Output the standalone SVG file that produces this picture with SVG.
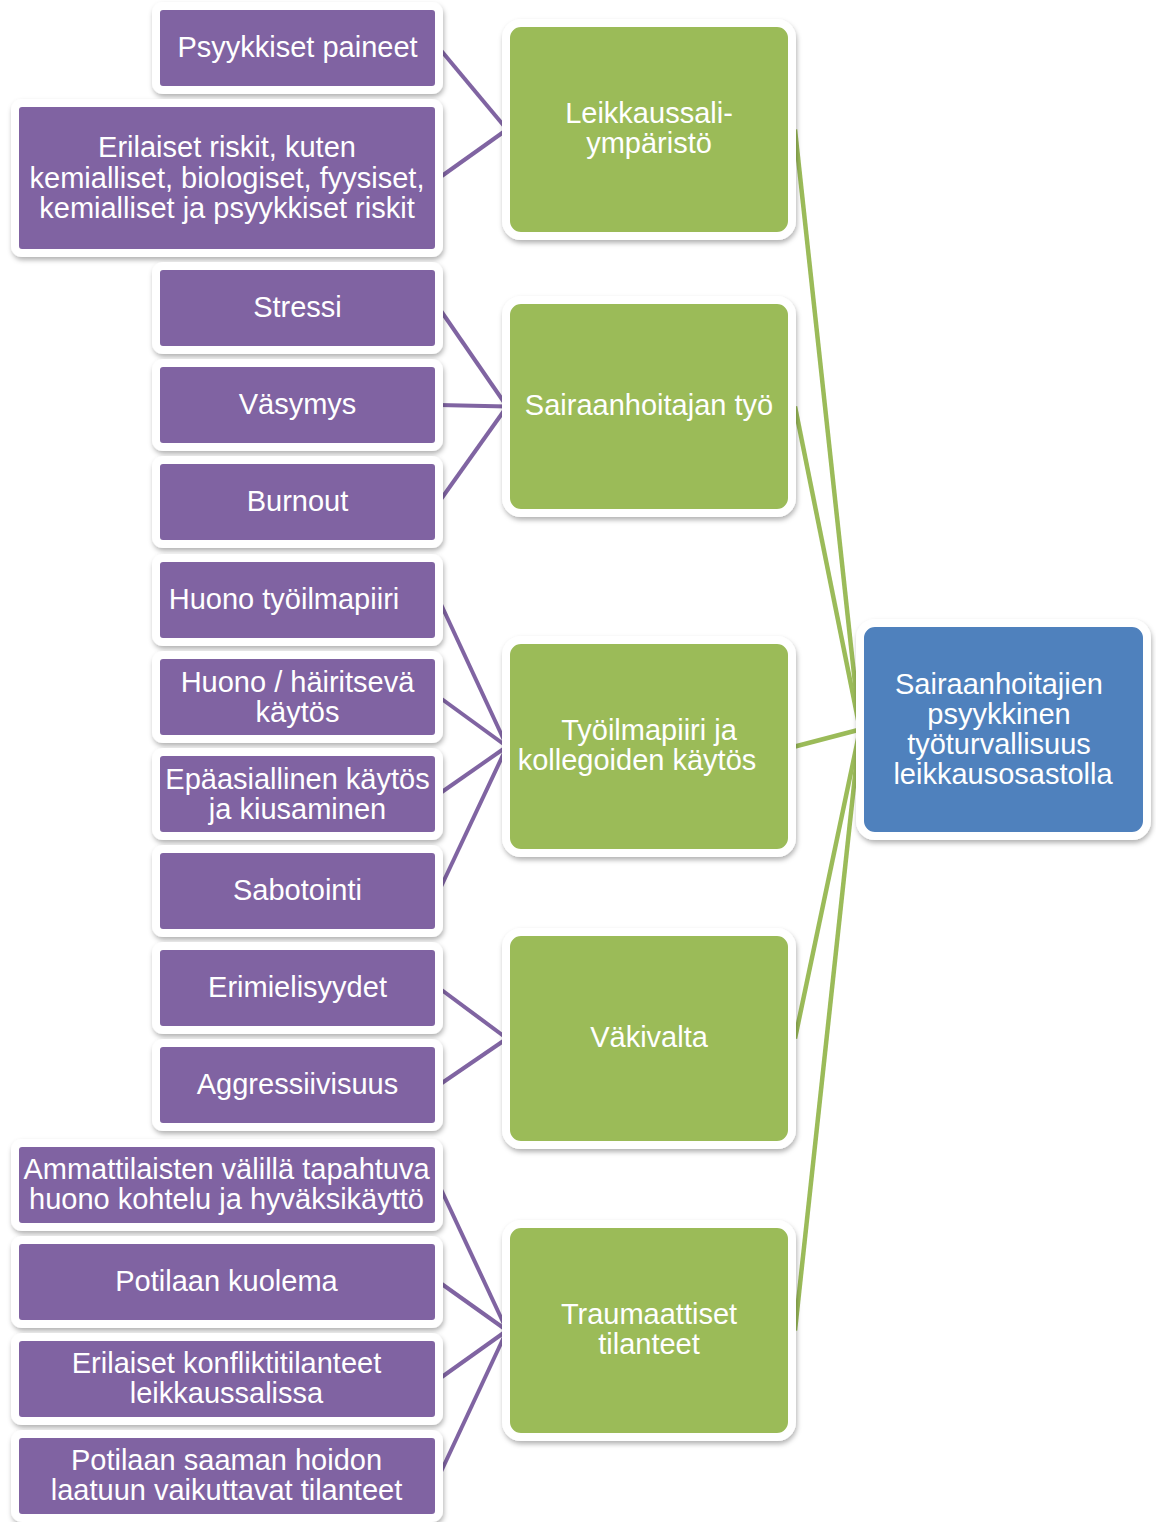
<svg xmlns="http://www.w3.org/2000/svg" width="1156" height="1522" viewBox="0 0 1156 1522">
<defs>
<filter id="sh" x="-10%" y="-10%" width="125%" height="135%">
<feDropShadow dx="1" dy="3" stdDeviation="2.5" flood-color="#000" flood-opacity="0.3"/>
</filter>
<style>
.p{fill:#8064A2;stroke:#fff;stroke-width:8;filter:url(#sh)}
.g{fill:#9BBB59;stroke:#fff;stroke-width:8;filter:url(#sh)}
.b{fill:#4F81BD;stroke:#fff;stroke-width:8;filter:url(#sh)}
text{font-family:"Liberation Sans",Arial,sans-serif;font-size:29px;fill:#fff;text-anchor:middle}
.cp{stroke:#8064A2;stroke-width:4;fill:none}
.cg{stroke:#9BBB59;stroke-width:4.5;fill:none}
</style>
</defs>
<rect width="1156" height="1522" fill="#fff"/>
<g id="connectors">
<line class="cp" x1="439" y1="48" x2="507" y2="129.5"/>
<line class="cp" x1="439" y1="178" x2="507" y2="129.5"/>
<line class="cp" x1="439" y1="308" x2="507" y2="406.5"/>
<line class="cp" x1="439" y1="405" x2="507" y2="406.5"/>
<line class="cp" x1="439" y1="502" x2="507" y2="406.5"/>
<line class="cp" x1="439" y1="600" x2="507" y2="746.5"/>
<line class="cp" x1="439" y1="697" x2="507" y2="746.5"/>
<line class="cp" x1="439" y1="794" x2="507" y2="746.5"/>
<line class="cp" x1="439" y1="891" x2="507" y2="746.5"/>
<line class="cp" x1="439" y1="988" x2="507" y2="1038.5"/>
<line class="cp" x1="439" y1="1085" x2="507" y2="1038.5"/>
<line class="cp" x1="439" y1="1185" x2="507" y2="1330.5"/>
<line class="cp" x1="439" y1="1282" x2="507" y2="1330.5"/>
<line class="cp" x1="439" y1="1379" x2="507" y2="1330.5"/>
<line class="cp" x1="439" y1="1476" x2="507" y2="1330.5"/>
<line class="cg" x1="795" y1="129.5" x2="860" y2="729.5"/>
<line class="cg" x1="795" y1="406.5" x2="860" y2="729.5"/>
<line class="cg" x1="795" y1="746.5" x2="860" y2="729.5"/>
<line class="cg" x1="795" y1="1038.5" x2="860" y2="729.5"/>
<line class="cg" x1="795" y1="1330.5" x2="860" y2="729.5"/>
</g>
<g id="n-psyykkiset-paineet"><rect class="p" x="156" y="6" width="283" height="84" rx="7"/><text x="297.5" y="57">Psyykkiset paineet</text></g>
<g id="n-erilaiset-riskit"><rect class="p" x="15" y="103" width="424" height="150" rx="7"/><text x="227" y="157">Erilaiset riskit, kuten</text><text x="227" y="187.5">kemialliset, biologiset, fyysiset,</text><text x="227" y="218">kemialliset ja psyykkiset riskit</text></g>
<g id="n-stressi"><rect class="p" x="156" y="266" width="283" height="84" rx="7"/><text x="297.5" y="317">Stressi</text></g>
<g id="n-vasymys"><rect class="p" x="156" y="363" width="283" height="84" rx="7"/><text x="297.5" y="414">Väsymys</text></g>
<g id="n-burnout"><rect class="p" x="156" y="460" width="283" height="84" rx="7"/><text x="297.5" y="511">Burnout</text></g>
<g id="n-huono-tyoilmapiiri"><rect class="p" x="156" y="558" width="283" height="84" rx="7"/><text x="284" y="609">Huono työilmapiiri</text></g>
<g id="n-huono-kaytos"><rect class="p" x="156" y="655" width="283" height="84" rx="7"/><text x="297.5" y="691.5">Huono / häiritsevä</text><text x="297.5" y="721.5">käytös</text></g>
<g id="n-epaasiallinen"><rect class="p" x="156" y="752" width="283" height="84" rx="7"/><text x="297.5" y="788.5">Epäasiallinen käytös</text><text x="297.5" y="818.5">ja kiusaminen</text></g>
<g id="n-sabotointi"><rect class="p" x="156" y="849" width="283" height="84" rx="7"/><text x="297.5" y="900">Sabotointi</text></g>
<g id="n-erimielisyydet"><rect class="p" x="156" y="946" width="283" height="84" rx="7"/><text x="297.5" y="997">Erimielisyydet</text></g>
<g id="n-aggressiivisuus"><rect class="p" x="156" y="1043" width="283" height="84" rx="7"/><text x="297.5" y="1094">Aggressiivisuus</text></g>
<g id="n-ammattilaisten"><rect class="p" x="15" y="1143" width="424" height="84" rx="7"/><text x="226.5" y="1178.5">Ammattilaisten välillä tapahtuva</text><text x="226.5" y="1208.5">huono kohtelu ja hyväksikäyttö</text></g>
<g id="n-potilaan-kuolema"><rect class="p" x="15" y="1240" width="424" height="84" rx="7"/><text x="226.5" y="1290.5">Potilaan kuolema</text></g>
<g id="n-konfliktitilanteet"><rect class="p" x="15" y="1337" width="424" height="84" rx="7"/><text x="226.5" y="1372.5">Erilaiset konfliktitilanteet</text><text x="226.5" y="1402.5">leikkaussalissa</text></g>
<g id="n-hoidon-laatu"><rect class="p" x="15" y="1434" width="424" height="84" rx="7"/><text x="226.5" y="1469.5">Potilaan saaman hoidon</text><text x="226.5" y="1499.5">laatuun vaikuttavat tilanteet</text></g>
<g id="n-leikkaussaliymparisto"><rect class="g" x="506" y="23" width="286" height="213" rx="15"/><text x="649" y="123">Leikkaussali-</text><text x="649" y="153">ympäristö</text></g>
<g id="n-sairaanhoitajan-tyo"><rect class="g" x="506" y="300" width="286" height="213" rx="15"/><text x="649" y="415">Sairaanhoitajan työ</text></g>
<g id="n-tyoilmapiiri"><rect class="g" x="506" y="640" width="286" height="213" rx="15"/><text x="649" y="740">Työilmapiiri ja</text><text x="637" y="770">kollegoiden käytös</text></g>
<g id="n-vakivalta"><rect class="g" x="506" y="932" width="286" height="213" rx="15"/><text x="649" y="1047">Väkivalta</text></g>
<g id="n-traumaattiset"><rect class="g" x="506" y="1224" width="286" height="213" rx="15"/><text x="649" y="1324">Traumaattiset</text><text x="649" y="1354">tilanteet</text></g>
<g id="n-tyoturvallisuus"><rect class="b" x="860" y="623" width="287" height="213" rx="15"/><text x="999" y="694">Sairaanhoitajien</text><text x="999" y="724">psyykkinen</text><text x="999" y="754">työturvallisuus</text><text x="1003" y="784">leikkausosastolla</text></g>
</svg>
